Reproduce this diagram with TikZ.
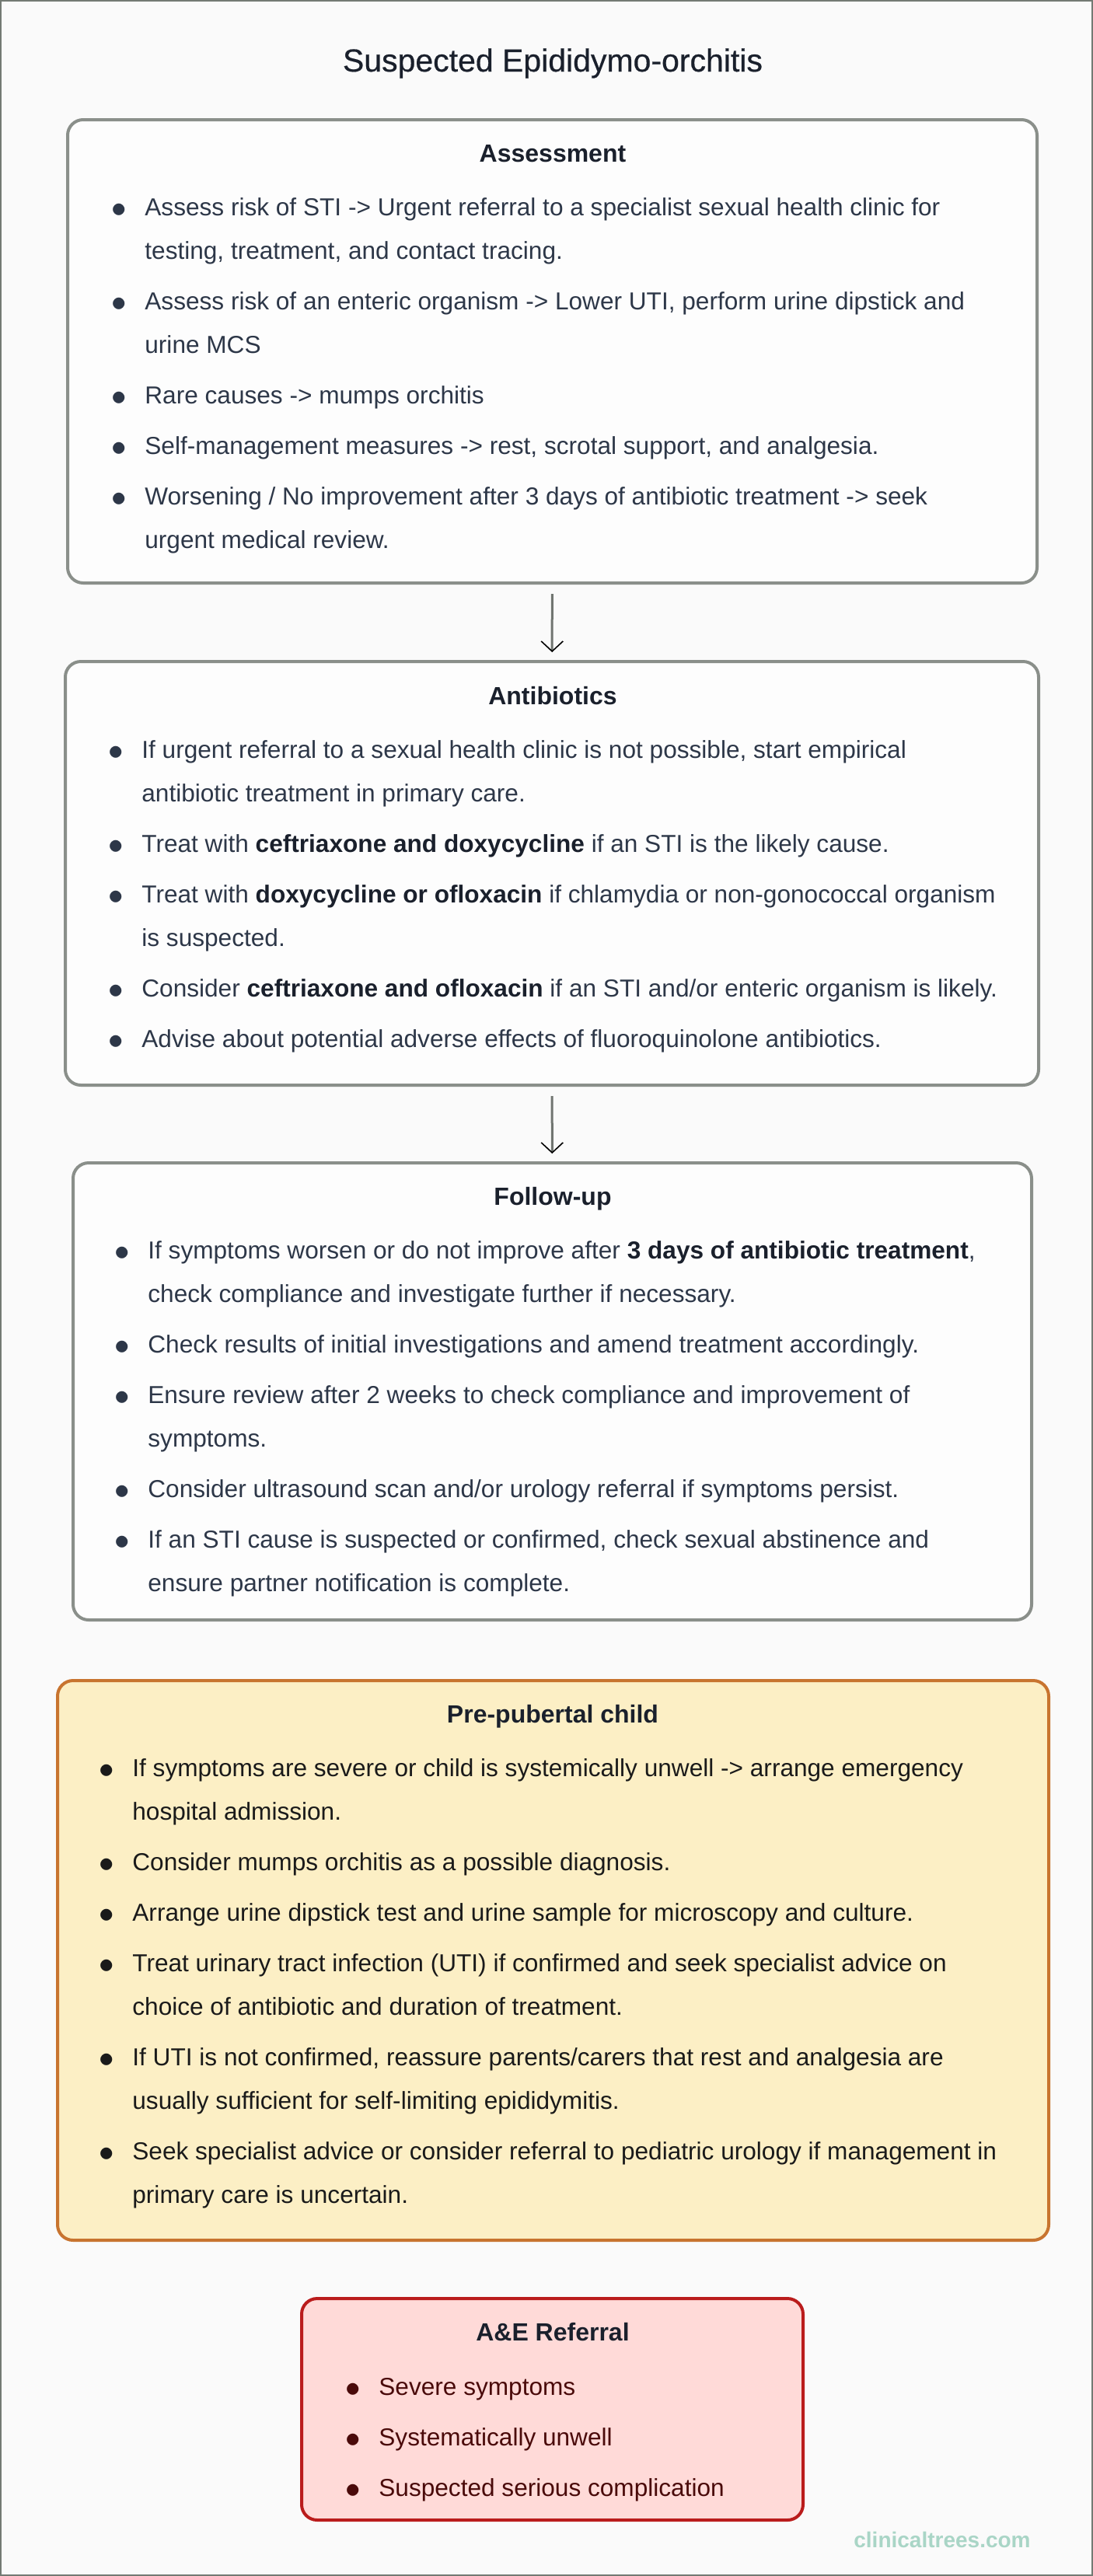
\documentclass[tikz,border=0pt]{standalone}
\usepackage{fontspec}
\usepackage{graphicx}
\setmainfont{Liberation Sans}
\newfontfamily\medfont[FakeBold=0.5]{Liberation Sans}
\usetikzlibrary{arrows.meta}

\definecolor{bgc}{HTML}{FAFAFA}
\definecolor{framec}{HTML}{737A73}
\definecolor{gline}{HTML}{8A8F8A}
\definecolor{gfill}{HTML}{FDFDFD}
\definecolor{yline}{HTML}{C8742F}
\definecolor{yfill}{HTML}{FCEFC5}
\definecolor{rline}{HTML}{BA1C1C}
\definecolor{rfill}{HTML}{FFDAD8}
\definecolor{headc}{HTML}{1A202C}
\definecolor{bodyc}{HTML}{2D3748}
\definecolor{prec}{HTML}{1A1A1A}
\definecolor{aec}{HTML}{4A0A0A}
\definecolor{arrowc}{HTML}{707570}
\definecolor{wmc}{HTML}{A9D5C6}

\tikzset{
  box/.style={line width=2pt, rounded corners=10pt, inner sep=0pt},
  gbox/.style={box, draw=gline, fill=gfill},
  ybox/.style={box, draw=yline, fill=yfill},
  rbox/.style={box, draw=rline, fill=rfill},
  head/.style={anchor=base, inner sep=0pt, text=headc, font=\fontsize{16pt}{20pt}\selectfont\bfseries},
  list/.style={anchor=base west, inner sep=0pt, text=bodyc},
  flow/.style={draw=arrowc, line width=1.5pt, shorten <=6pt, shorten >=5pt,
    -{Straight Barb[length=6.5pt,width=14pt,line width=0.8pt,color=black]}}
}
\newcommand{\itm}{\par\noindent\llap{\raisebox{-1.3pt}{\scalebox{1.35}{$\bullet$}}\hspace{11.7pt}}}
\newcommand{\bt}[1]{{\bfseries\color{headc}#1}}
\newcommand{\lst}[1]{\parbox[t]{640pt}{\fontsize{15.8pt}{28pt}\selectfont\setlength{\parskip}{4.5pt}#1}}

\begin{document}
\begin{tikzpicture}[x=1pt,y=-1pt]
  \useasboundingbox (0,0) rectangle (703,1657);
  \fill[bgc] (0,0) rectangle (703,1657);
  \draw[framec, line width=1pt] (0.5,0.5) rectangle (702.5,1656.5);

  \node[anchor=base, inner sep=0pt, text=headc, font=\fontsize{20.5pt}{25pt}\medfont] (title) at (355.5,46) {Suspected Epididymo-orchitis};

  % assessment
  \node[gbox, minimum width=623.5pt, minimum height=298pt] (assess) at (355.25,226) {};
  \node[head] (assesshd) at (355.5,104) {Assessment};
  \node[list] (assesslst) at (93,138.5) {\lst{%
    \itm Assess risk of STI -> Urgent referral to a specialist sexual health clinic for\\ testing, treatment, and contact tracing.
    \itm Assess risk of an enteric organism -> Lower UTI, perform urine dipstick and\\ urine MCS
    \itm Rare causes -> mumps orchitis
    \itm Self-management measures -> rest, scrotal support, and analgesia.
    \itm Worsening / No improvement after 3 days of antibiotic treatment -> seek\\ urgent medical review.}};

  % antibiotics
  \node[gbox, minimum width=626pt, minimum height=272.5pt] (anti) at (355,561.75) {};
  \node[head] (antihd) at (355.5,453.3) {Antibiotics};
  \node[list] (antilst) at (91,487.5) {\lst{%
    \itm If urgent referral to a sexual health clinic is not possible, start empirical\\ antibiotic treatment in primary care.
    \itm Treat with \bt{ceftriaxone and doxycycline} if an STI is the likely cause.
    \itm Treat with \bt{doxycycline or ofloxacin} if chlamydia or non-gonococcal organism\\ is suspected.
    \itm Consider \bt{ceftriaxone and ofloxacin} if an STI and/or enteric organism is likely.
    \itm Advise about potential adverse effects of fluoroquinolone antibiotics.}};

  % follow-up
  \node[gbox, minimum width=616.5pt, minimum height=294pt] (follow) at (355.25,895) {};
  \node[head] (followhd) at (355.5,775) {Follow-up};
  \node[list] (followlst) at (95,809.5) {\lst{%
    \itm If symptoms worsen or do not improve after \bt{3 days of antibiotic treatment},\\ check compliance and investigate further if necessary.
    \itm Check results of initial investigations and amend treatment accordingly.
    \itm Ensure review after 2 weeks to check compliance and improvement of\\ symptoms.
    \itm Consider ultrasound scan and/or urology referral if symptoms persist.
    \itm If an STI cause is suspected or confirmed, check sexual abstinence and\\ ensure partner notification is complete.}};

  % pre-pubertal child
  \node[ybox, minimum width=637.5pt, minimum height=360pt] (child) at (355.75,1261) {};
  \node[head] (childhd) at (355.5,1108.3) {Pre-pubertal child};
  \node[list, text=prec] (childlst) at (85,1142.5) {\lst{%
    \itm If symptoms are severe or child is systemically unwell -> arrange emergency\\ hospital admission.
    \itm Consider mumps orchitis as a possible diagnosis.
    \itm Arrange urine dipstick test and urine sample for microscopy and culture.
    \itm Treat urinary tract infection (UTI) if confirmed and seek specialist advice on\\ choice of antibiotic and duration of treatment.
    \itm If UTI is not confirmed, reassure parents/carers that rest and analgesia are\\ usually sufficient for self-limiting epididymitis.
    \itm Seek specialist advice or consider referral to pediatric urology if management in\\ primary care is uncertain.}};

  % a&e
  \node[rbox, minimum width=322.5pt, minimum height=142.5pt] (ae) at (355.25,1549.75) {};
  \node[head] (aehd) at (355.5,1505.8) {A\&E Referral};
  \node[list, text=aec] (aelst) at (243.5,1540.5) {\lst{%
    \itm Severe symptoms
    \itm Systematically unwell
    \itm Suspected serious complication}};

  \draw[flow] (assess) -- (anti);
  \draw[flow] (anti) -- (follow);

  \node[anchor=base east, inner sep=0pt, text=wmc, font=\fontsize{14pt}{16pt}\selectfont\bfseries] (wm) at (663,1638.5) {clinicaltrees.com};
\end{tikzpicture}
\end{document}
